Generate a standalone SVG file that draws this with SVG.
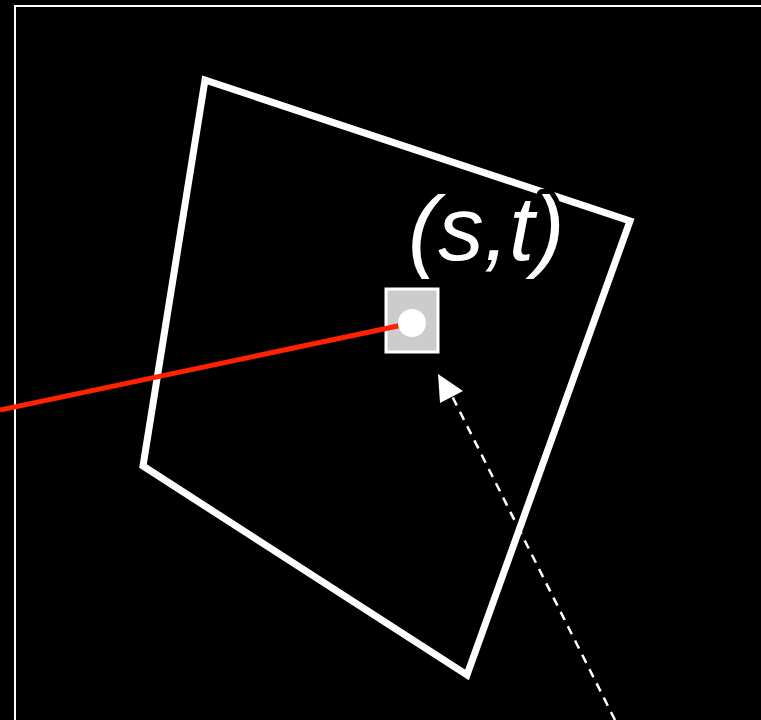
<svg xmlns="http://www.w3.org/2000/svg" width="761" height="720" viewBox="0 0 761 720">
<style>
.quad{fill:none;stroke:#fff;stroke-width:7;stroke-linejoin:miter}
.lbl{font-family:"Liberation Sans",Arial,sans-serif;font-style:italic;font-size:91px;fill:#fff;stroke:#000;stroke-width:10;paint-order:stroke;stroke-linejoin:round}
</style>
<rect x="0" y="0" width="761" height="720" fill="#000"/>
<rect x="15" y="6" width="750" height="730" fill="none" stroke="#fff" stroke-width="2"/>
<g id="quad"><polygon class="quad" points="205,80 630,221 467,675 143,466"/></g>
<g id="sample-box"><rect x="386" y="289" width="52" height="63" fill="#ccc" stroke="#fff" stroke-width="3"/></g>
<g id="connectors">
<line x1="0" y1="410" x2="412" y2="323" stroke="#ff2200" stroke-width="5"/>
<line x1="615" y1="720" x2="450" y2="392" stroke="#fff" stroke-width="2.5" stroke-dasharray="9,7"/>
<polygon points="438,374 463,391 440,403" fill="#fff"/>
</g>
<g id="point"><circle cx="412" cy="323" r="14" fill="#fff"/></g>
<g id="label"><text class="lbl" x="408" y="260">(s,t)</text></g>
</svg>
